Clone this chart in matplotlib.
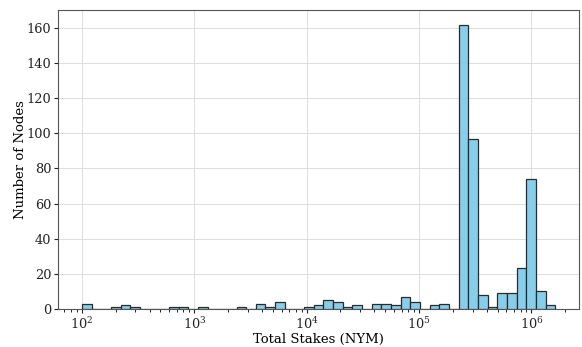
import matplotlib
matplotlib.use("Agg")
import matplotlib.pyplot as plt
import numpy as np

# log10 range of the stake histogram and its 49 equal-width log bins
log_min = 2.0
log_max = 6.2135
n_bins = 49

# node counts per bin
counts = [
    3, 0, 0, 1, 2, 1, 0, 0, 0, 1,
    1, 0, 1, 0, 0, 0, 1, 0, 3, 1,
    4, 0, 0, 1, 2, 5, 4, 1, 2, 0,
    3, 3, 2, 7, 4, 0, 2, 3, 0, 162,
    97, 8, 1, 9, 9, 23, 74, 10, 2,
]

plt.rcParams["font.family"] = "DejaVu Serif"
plt.rcParams["mathtext.fontset"] = "dejavuserif"

edges = np.logspace(log_min, log_max, n_bins + 1)

fig, ax = plt.subplots(figsize=(5.82, 3.47), dpi=100)
ax.hist(edges[:-1], bins=edges, weights=counts, color="skyblue",
        edgecolor="#2b2b2b", linewidth=0.9, zorder=3)
ax.set_xscale("log")
ax.set_xlabel("Total Stakes (NYM)", fontsize=9.5, labelpad=1)
ax.set_ylabel("Number of Nodes", fontsize=9.5, labelpad=-0.5)
ax.tick_params(labelsize=9.3, colors="#222222", pad=2, length=3)
ax.tick_params(axis="x", which="minor", length=2)
ax.grid(True, color="#dddddd", linewidth=0.7, zorder=0)
for s in ax.spines.values():
    s.set_color("#555555")
fig.subplots_adjust(left=0.1, right=0.995, top=0.97, bottom=0.11)
fig.savefig("out.png")
